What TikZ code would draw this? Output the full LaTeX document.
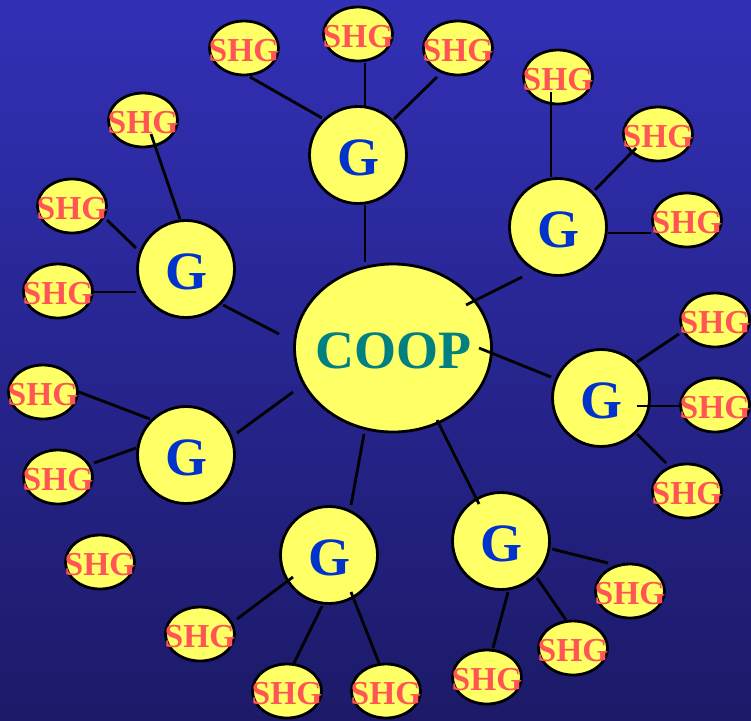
\documentclass[tikz,border=0pt]{standalone}
\usepackage{fontspec}
\setmainfont{Liberation Serif}
\usetikzlibrary{shapes.geometric,calc}
\definecolor{bgtop}{RGB}{50,48,182}
\definecolor{bgbot}{RGB}{28,26,104}
\definecolor{fillY}{RGB}{255,255,102}
\definecolor{shgred}{RGB}{255,85,85}
\definecolor{gblue}{RGB}{0,51,204}
\definecolor{cooptext}{RGB}{0,128,128}
\begin{document}
\begin{tikzpicture}[x=1pt,y=-1pt,
  shg/.style={ellipse,draw=black,line width=2.8pt,fill=fillY,minimum width=69pt,minimum height=54pt,inner sep=0pt,
    text=shgred,font=\bfseries\fontsize{33.5}{33.5}\selectfont,text height=26pt,text depth=0pt},
  grp/.style={circle,draw=black,line width=2.8pt,fill=fillY,minimum size=97pt,inner sep=0pt,
    text=gblue,font=\bfseries\fontsize{54}{54}\selectfont,text height=40pt,text depth=0pt},
  coopnode/.style={ellipse,draw=black,line width=2.8pt,fill=fillY,minimum width=197pt,minimum height=168pt,inner sep=0pt,
    text=cooptext,font=\bfseries\fontsize{54}{54}\selectfont,text height=40pt,text depth=0pt},
  link/.style={line width=2.8pt,draw=black}]
\useasboundingbox (0,0) rectangle (751,720);
\shade[top color=bgtop,bottom color=bgbot] (0,0) rectangle (751,720);
% central node
\node[coopnode] (coop) at (393,348) {\makebox[0pt]{COOP}};
% groups
\node[grp] (gT)  at (358,155) {\makebox[0pt]{G}};
\node[grp] (gTR) at (558,227) {\makebox[0pt]{G}};
\node[grp] (gR)  at (601,398) {\makebox[0pt]{G}};
\node[grp] (gBR) at (501,541) {\makebox[0pt]{G}};
\node[grp] (gB)  at (329,555) {\makebox[0pt]{G}};
\node[grp] (gL)  at (186,455) {\makebox[0pt]{G}};
\node[grp] (gTL) at (186,269) {\makebox[0pt]{G}};
% self-help groups
\node[shg] (s1)  at (244,48)  {\makebox[0pt]{SHG}};
\node[shg] (s2)  at (358,34)  {\makebox[0pt]{SHG}};
\node[shg] (s3)  at (458,48)  {\makebox[0pt]{SHG}};
\node[shg] (s4)  at (558,77)  {\makebox[0pt]{SHG}};
\node[shg] (s5)  at (658,134) {\makebox[0pt]{SHG}};
\node[shg] (s6)  at (687,220) {\makebox[0pt]{SHG}};
\node[shg] (s7)  at (715,320) {\makebox[0pt]{SHG}};
\node[shg] (s8)  at (715,405) {\makebox[0pt]{SHG}};
\node[shg] (s9)  at (687,491) {\makebox[0pt]{SHG}};
\node[shg] (s10) at (630,591) {\makebox[0pt]{SHG}};
\node[shg] (s11) at (573,648) {\makebox[0pt]{SHG}};
\node[shg] (s12) at (487,677) {\makebox[0pt]{SHG}};
\node[shg] (s13) at (386,691) {\makebox[0pt]{SHG}};
\node[shg] (s14) at (287,691) {\makebox[0pt]{SHG}};
\node[shg] (s15) at (200,634) {\makebox[0pt]{SHG}};
\node[shg] (s16) at (100,562) {\makebox[0pt]{SHG}};
\node[shg] (s17) at (58,477)  {\makebox[0pt]{SHG}};
\node[shg] (s18) at (43,392)  {\makebox[0pt]{SHG}};
\node[shg] (s19) at (58,291)  {\makebox[0pt]{SHG}};
\node[shg] (s20) at (72,206)  {\makebox[0pt]{SHG}};
\node[shg] (s21) at (143,120) {\makebox[0pt]{SHG}};
% connectors
\draw[link] ($(s1)+(6,29)$) -- ($(gT)+(-36,-37)$);
\draw[link] ($(s2)+(7,29)$) -- ($(gT)+(7,-49)$);
\draw[link] ($(s3)+(-21,29)$) -- ($(gT)+(36,-36)$);
\draw[link] ($(gT)+(7,50)$) -- ($(coop)+(-28,-86)$);
\draw[link] ($(s4)+(-7,15)$) -- ($(gTR)+(-7,-50)$);
\draw[link] ($(s5)+(-22,14)$) -- ($(gTR)+(37,-37)$);
\draw[link] ($(gTR)+(50,6)$) -- ($(s6)+(-36,13)$);
\draw[link] ($(gTR)+(-36,50)$) -- ($(coop)+(73,-43)$);
\draw[link] ($(gR)+(36,-36)$) -- ($(s7)+(-36,14)$);
\draw[link] ($(gR)+(36,8)$) -- ($(s8)+(-35,1)$);
\draw[link] ($(gR)+(36,36)$) -- ($(s9)+(-21,-28)$);
\draw[link] ($(coop)+(86,0)$) -- ($(gR)+(-50,-21)$);
\draw[link] ($(coop)+(44,72)$) -- ($(gBR)+(-22,-37)$);
\draw[link] ($(gBR)+(51,8)$) -- ($(s10)+(-22,-28)$);
\draw[link] ($(gBR)+(36,37)$) -- ($(s11)+(-7,-28)$);
\draw[link] ($(gBR)+(7,51)$) -- ($(s12)+(6,-29)$);
\draw[link] ($(coop)+(-29,86)$) -- ($(gB)+(22,-50)$);
\draw[link] ($(gB)+(-36,22)$) -- ($(s15)+(37,-15)$);
\draw[link] ($(gB)+(-7,51)$) -- ($(s14)+(7,-28)$);
\draw[link] ($(gB)+(22,37)$) -- ($(s13)+(-7,-28)$);
\draw[link] ($(s18)+(36,0)$) -- ($(gL)+(-36,-36)$);
\draw[link] ($(s17)+(36,-14)$) -- ($(gL)+(-50,-7)$);
\draw[link] ($(gL)+(51,-22)$) -- ($(coop)+(-100,44)$);
\draw[link] ($(s20)+(35,14)$) -- ($(gTL)+(-50,-21)$);
\draw[link] ($(s19)+(36,1)$) -- ($(gTL)+(-50,23)$);
\draw[link] ($(gTL)+(37,36)$) -- ($(coop)+(-114,-14)$);
\draw[link] ($(s21)+(8,14)$) -- ($(gTL)+(-6,-50)$);
\end{tikzpicture}
\end{document}
